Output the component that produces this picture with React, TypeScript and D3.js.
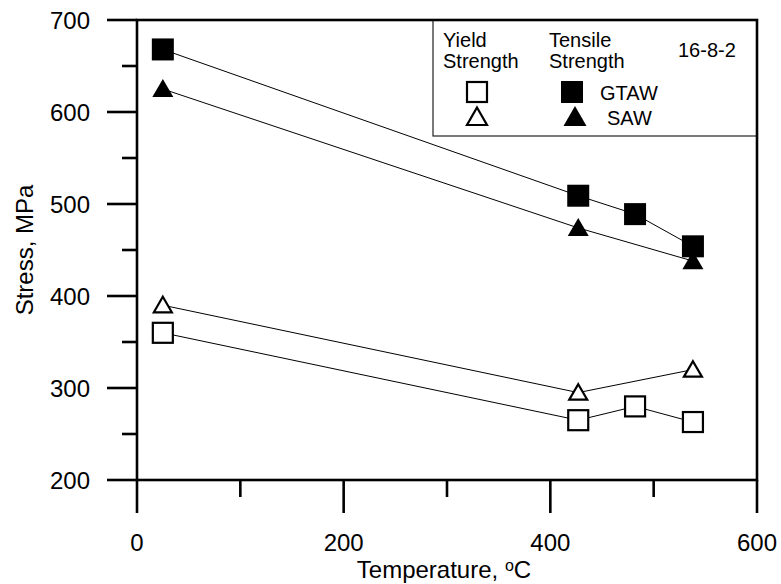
import React from "react";
import * as d3 from "d3";

const temps = [25, 427, 482, 538];
const sawTemps = [25, 427, 538];
const gtawTensile = [668, 509, 489, 454];
const sawTensile = [625, 474, 438];
const gtawYield = [360, 265, 280, 263];
const sawYield = [390, 295, 320];

const xMajorTicks = [0, 200, 400, 600];
const xMinorTicks = [100, 300, 500];
const yMajorTicks = [200, 300, 400, 500, 600, 700];
const yMinorTicks = [250, 350, 450, 550, 650];

const FONT = "'Liberation Sans', Arial, Helvetica, sans-serif";

function Square({ cx, cy, filled, size = 21 }: { cx: number; cy: number; filled: boolean; size?: number }) {
  const s = filled ? size : size - 2;
  return (
    <rect
      x={cx - s / 2}
      y={cy - s / 2}
      width={s}
      height={s}
      fill={filled ? "#000" : "#fff"}
      stroke="#000"
      strokeWidth={filled ? 0 : 2.2}
    />
  );
}

function Triangle({ cx, cy, filled, w = 21, h = 18 }: { cx: number; cy: number; filled: boolean; w?: number; h?: number }) {
  const pts = filled
    ? `${cx},${cy - h * 0.55} ${cx + w / 2},${cy + h * 0.45} ${cx - w / 2},${cy + h * 0.45}`
    : `${cx},${cy - h * 0.55 + 1.5} ${cx + w / 2 - 1.5},${cy + h * 0.45 - 1} ${cx - w / 2 + 1.5},${cy + h * 0.45 - 1}`;
  return (
    <polygon
      points={pts}
      fill={filled ? "#000" : "#fff"}
      stroke="#000"
      strokeWidth={filled ? 0 : 2.2}
      strokeLinejoin="miter"
    />
  );
}

export default function App() {
  const x = d3.scaleLinear().domain([0, 600]).range([137, 757]);
  const y = d3.scaleLinear().domain([200, 700]).range([480, 20]);

  const line = d3
    .line<[number, number]>()
    .x((d) => x(d[0]))
    .y((d) => y(d[1]));

  const series = [
    { xs: temps, ys: gtawTensile, kind: "sq", filled: true },
    { xs: sawTemps, ys: sawTensile, kind: "tri", filled: true },
    { xs: temps, ys: gtawYield, kind: "sq", filled: false },
    { xs: sawTemps, ys: sawYield, kind: "tri", filled: false },
  ];

  const axisW = 2.6;

  return (
    <div style={{ position: "absolute", left: 0, top: 0 }}>
      <svg width={781} height={584} style={{ display: "block", background: "#fff" }} fontFamily={FONT}>
        <rect x={0} y={0} width={781} height={584} fill="#fff" />
        {/* connecting lines */}
        {series.map((s, i) => (
          <path
            key={"l" + i}
            d={line(s.xs.map((t, j) => [t, s.ys[j]] as [number, number])) || ""}
            fill="none"
            stroke="#000"
            strokeWidth={1}
          />
        ))}
        {/* legend box */}
        <rect x={433} y={20} width={324} height={116} fill="none" stroke="#222" strokeWidth={1.2} />
        <g fontSize={20} fill="#000">
          <text x={443} y={47}>Yield</text>
          <text x={443} y={68}>Strength</text>
          <text x={549} y={47}>Tensile</text>
          <text x={549} y={68}>Strength</text>
          <text x={678} y={57}>16-8-2</text>
          <text x={600} y={100}>GTAW</text>
          <text x={607} y={125}>SAW</text>
        </g>
        <Square cx={477} cy={92} filled={false} size={22} />
        <Square cx={572} cy={92} filled={true} size={22} />
        <Triangle cx={477} cy={117} filled={false} w={23} h={20} />
        <Triangle cx={575} cy={117} filled={true} w={23} h={20} />

        {/* markers */}
        {series.map((s, i) =>
          s.xs.map((t, j) =>
            s.kind === "sq" ? (
              <Square key={`m${i}-${j}`} cx={x(t)} cy={y(s.ys[j])} filled={s.filled} size={22} />
            ) : (
              <Triangle key={`m${i}-${j}`} cx={x(t)} cy={y(s.ys[j])} filled={s.filled} w={21} h={18} />
            )
          )
        )}

        {/* frame */}
        <rect x={x(0)} y={y(700)} width={x(600) - x(0)} height={y(200) - y(700)} fill="none" stroke="#000" strokeWidth={axisW} />

        {/* y ticks */}
        {yMajorTicks.map((v) => (
          <g key={"ym" + v}>
            <line x1={x(0) - 30} x2={x(0)} y1={y(v)} y2={y(v)} stroke="#000" strokeWidth={axisW} />
            <text x={90} y={y(v) + 8.6} fontSize={24} textAnchor="end">
              {v}
            </text>
          </g>
        ))}
        {yMinorTicks.map((v) => (
          <line key={"yn" + v} x1={x(0) - 15} x2={x(0)} y1={y(v)} y2={y(v)} stroke="#000" strokeWidth={axisW} />
        ))}
        {/* x ticks */}
        {xMajorTicks.map((v) => (
          <g key={"xm" + v}>
            <line x1={x(v)} x2={x(v)} y1={y(200)} y2={y(200) + 33} stroke="#000" strokeWidth={axisW} />
            <text x={x(v)} y={551} fontSize={24} textAnchor="middle">
              {v}
            </text>
          </g>
        ))}
        {xMinorTicks.map((v) => (
          <line key={"xn" + v} x1={x(v)} x2={x(v)} y1={y(200)} y2={y(200) + 17} stroke="#000" strokeWidth={axisW} />
        ))}

        {/* axis titles */}
        <text x={444} y={578} fontSize={24} textAnchor="middle">
          Temperature,{" "}
          <tspan fontSize={16} dy={-7}>o</tspan>
          <tspan dy={7}>C</tspan>
        </text>
        <text transform={`translate(33,250) rotate(-90)`} fontSize={24} textAnchor="middle">
          Stress, MPa
        </text>
      </svg>
    </div>
  );
}
